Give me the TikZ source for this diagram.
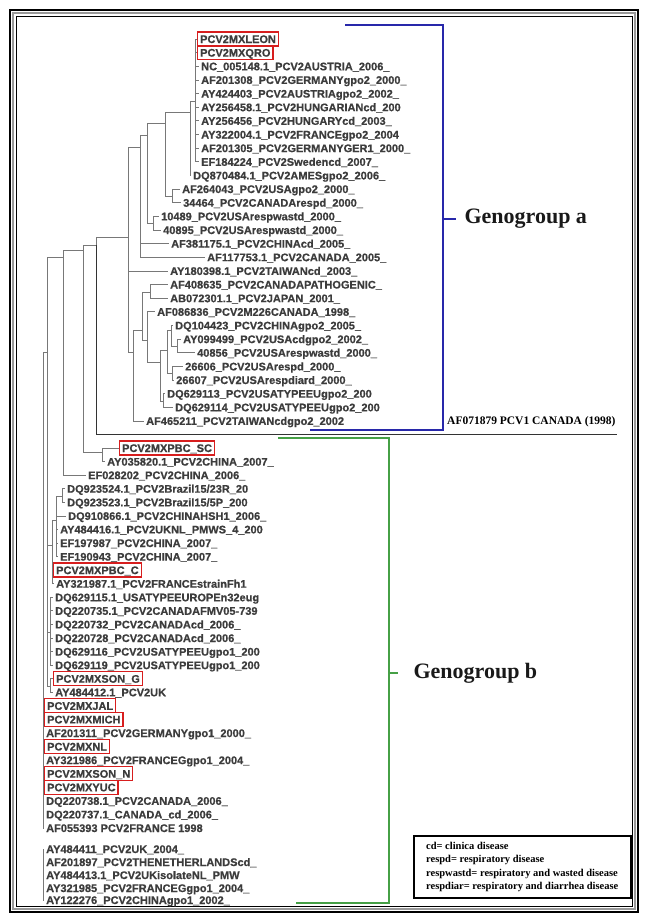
\documentclass[tikz,border=0pt]{standalone}
\usepackage{fontspec}
\setmainfont{Liberation Serif}
\newfontfamily\arialf{Liberation Sans}[FakeBold=0.7]
\definecolor{lblue}{RGB}{40,40,170}
\definecolor{lgreen}{RGB}{70,160,70}
\definecolor{mxred}{RGB}{215,30,30}
\definecolor{txt}{RGB}{60,60,60}
\definecolor{brc}{RGB}{120,120,120}
\pgfdeclarelayer{bg}
\pgfsetlayers{bg,main}
\begin{document}
\begin{tikzpicture}[x=1pt,y=-1pt,
  lf/.style={anchor=west, inner xsep=2pt, inner ysep=3pt, text height=8pt, text depth=0pt,
             font=\arialf\bfseries\fontsize{11}{13}\selectfont, text=txt},
  mx/.style={lf, draw=mxred, line width=1.3pt, inner xsep=2.5pt},
  br/.style={draw=brc, line width=0.8pt},
  grpa/.style={draw=lblue, line width=1.5pt},
  grpb/.style={draw=lgreen, line width=1.5pt},
  geno/.style={anchor=west, font=\bfseries\fontsize{22}{24}\selectfont, text=black!90},
  legend/.style={anchor=north west, draw, line width=1.5pt, inner xsep=5pt, inner ysep=5pt,
                 align=left, font=\bfseries\fontsize{10.5}{13.5}\selectfont},
  pcvlab/.style={anchor=west, inner sep=0pt, font=\bfseries\fontsize{11.5}{13}\selectfont}]
\useasboundingbox (0,0) rectangle (647,914);
\begin{pgfonlayer}{bg}
\fill[white] (0,0) rectangle (647,914);
\end{pgfonlayer}
% frame
\draw[line width=1.2pt] (10,10) rectangle (638,912);
\draw[line width=1.6pt, black!40] (13,13) rectangle (635,909);
\draw[line width=0.8pt] (16,16) rectangle (632,906);

% ---------------- Genogroup a leaves
\node[mx] (a0) at (197,39) {PCV2MXLEON};
\node[mx] (a1) at (197,52.6) {PCV2MXQRO};
\node[lf] (a2) at (199,66.3) {NC\_005148.1\_PCV2AUSTRIA\_2006\_};
\node[lf] (a3) at (199,79.9) {AF201308\_PCV2GERMANYgpo2\_2000\_};
\node[lf] (a4) at (199,93.6) {AY424403\_PCV2AUSTRIAgpo2\_2002\_};
\node[lf] (a5) at (199,107.2) {AY256458.1\_PCV2HUNGARIANcd\_200};
\node[lf] (a6) at (199,120.8) {AY256456\_PCV2HUNGARYcd\_2003\_};
\node[lf] (a7) at (199,134.5) {AY322004.1\_PCV2FRANCEgpo2\_2004};
\node[lf] (a8) at (199,148.1) {AF201305\_PCV2GERMANYGER1\_2000\_};
\node[lf] (a9) at (199,161.8) {EF184224\_PCV2Swedencd\_2007\_};
\node[lf] (a10) at (191,175.4) {DQ870484.1\_PCV2AMESgpo2\_2006\_};
\node[lf] (a11) at (180,189) {AF264043\_PCV2USAgpo2\_2000\_};
\node[lf] (a12) at (181,202.7) {34464\_PCV2CANADArespd\_2000\_};
\node[lf] (a13) at (159,216.3) {10489\_PCV2USArespwastd\_2000\_};
\node[lf] (a14) at (161,230) {40895\_PCV2USArespwastd\_2000\_};
\node[lf] (a15) at (169,243.6) {AF381175.1\_PCV2CHINAcd\_2005\_};
\node[lf] (a16) at (205,257.2) {AF117753.1\_PCV2CANADA\_2005\_};
\node[lf] (a17) at (168,270.9) {AY180398.1\_PCV2TAIWANcd\_2003\_};
\node[lf] (a18) at (168,284.5) {AF408635\_PCV2CANADAPATHOGENIC\_};
\node[lf] (a19) at (168,298.2) {AB072301.1\_PCV2JAPAN\_2001\_};
\node[lf] (a20) at (155,311.8) {AF086836\_PCV2M226CANADA\_1998\_};
\node[lf] (a21) at (173,325.4) {DQ104423\_PCV2CHINAgpo2\_2005\_};
\node[lf] (a22) at (181,339.1) {AY099499\_PCV2USAcdgpo2\_2002\_};
\node[lf] (a23) at (195,352.7) {40856\_PCV2USArespwastd\_2000\_};
\node[lf] (a24) at (183,366.4) {26606\_PCV2USArespd\_2000\_};
\node[lf] (a25) at (174,380) {26607\_PCV2USArespdiard\_2000\_};
\node[lf] (a26) at (165,393.6) {DQ629113\_PCV2USATYPEEUgpo2\_200};
\node[lf] (a27) at (173,407.3) {DQ629114\_PCV2USATYPEEUgpo2\_200};
\node[lf] (a28) at (144,420.9) {AF465211\_PCV2TAIWANcdgpo2\_2002};

% ---------------- Genogroup b leaves
\node[mx] (b0) at (119,448) {PCV2MXPBC\_SC};
\node[lf] (b1) at (105,461.6) {AY035820.1\_PCV2CHINA\_2007\_};
\node[lf] (b2) at (86,475.1) {EF028202\_PCV2CHINA\_2006\_};
\node[lf] (b3) at (65,488.7) {DQ923524.1\_PCV2Brazil15/23R\_20};
\node[lf] (b4) at (65,502.3) {DQ923523.1\_PCV2Brazil15/5P\_200};
\node[lf] (b5) at (66,515.9) {DQ910866.1\_PCV2CHINAHSH1\_2006\_};
\node[lf] (b6) at (58,529.4) {AY484416.1\_PCV2UKNL\_PMWS\_4\_200};
\node[lf] (b7) at (58,543) {EF197987\_PCV2CHINA\_2007\_};
\node[lf] (b8) at (58,556.6) {EF190943\_PCV2CHINA\_2007\_};
\node[mx] (b9) at (53,570.1) {PCV2MXPBC\_C};
\node[lf] (b10) at (54,583.7) {AY321987.1\_PCV2FRANCEstrainFh1};
\node[lf] (b11) at (53,597.3) {DQ629115.1\_USATYPEEUROPEn32eug};
\node[lf] (b12) at (53,610.8) {DQ220735.1\_PCV2CANADAFMV05-739};
\node[lf] (b13) at (53,624.4) {DQ220732\_PCV2CANADAcd\_2006\_};
\node[lf] (b14) at (53,638) {DQ220728\_PCV2CANADAcd\_2006\_};
\node[lf] (b15) at (53,651.6) {DQ629116\_PCV2USATYPEEUgpo1\_200};
\node[lf] (b16) at (53,665.1) {DQ629119\_PCV2USATYPEEUgpo1\_200};
\node[mx] (b17) at (53,678.7) {PCV2MXSON\_G};
\node[lf] (b18) at (53,692.3) {AY484412.1\_PCV2UK};
\node[mx] (b19) at (44,705.8) {PCV2MXJAL};
\node[mx] (b20) at (44,719.4) {PCV2MXMICH};
\node[lf] (b21) at (44,733) {AF201311\_PCV2GERMANYgpo1\_2000\_};
\node[mx] (b22) at (44,746.5) {PCV2MXNL};
\node[lf] (b23) at (44,760.1) {AY321986\_PCV2FRANCEGgpo1\_2004\_};
\node[mx] (b24) at (44,773.7) {PCV2MXSON\_N};
\node[mx] (b25) at (44,787.3) {PCV2MXYUC};
\node[lf] (b26) at (44,800.8) {DQ220738.1\_PCV2CANADA\_2006\_};
\node[lf] (b27) at (44,814.4) {DQ220737.1\_CANADA\_cd\_2006\_};
\node[lf] (b28) at (44,828) {AF055393 PCV2FRANCE 1998};
\node[lf] (c0) at (44,849) {AY484411\_PCV2UK\_2004\_};
\node[lf] (c1) at (44,862) {AF201897\_PCV2THENETHERLANDScd\_};
\node[lf] (c2) at (44,875) {AY484413.1\_PCV2UKisolateNL\_PMW};
\node[lf] (c3) at (44,888) {AY321985\_PCV2FRANCEGgpo1\_2004\_};
\node[lf] (c4) at (44,900) {AY122276\_PCV2CHINAgpo1\_2002\_};

% ---------------- internal nodes
\coordinate (A1) at (195,101);
\coordinate (A2) at (190,112);
\coordinate (A3) at (165,123);
\coordinate (P1) at (172,196);
\coordinate (A4) at (147,135);
\coordinate (P2) at (153,223);
\coordinate (A5) at (140,147);
\coordinate (A6) at (128,237);
\coordinate (B0) at (133,352);
\coordinate (C8) at (142,330);
\coordinate (Q1) at (150,292);
\coordinate (C7) at (147,340);
\coordinate (C6) at (160,362);
\coordinate (C4) at (167,350);
\coordinate (C2) at (171,330);
\coordinate (C1) at (177,346);
\coordinate (C3) at (172,373);
\coordinate (C5) at (163,401);
\coordinate (R96) at (96,245);
\coordinate (pcv1) at (617,434);
\coordinate (R83) at (83,250);
\coordinate (S1) at (102,452);
\coordinate (R63) at (63,257);
\coordinate (G1) at (62,496);
\coordinate (G2) at (56,520);
\coordinate (G3) at (52,545);
\coordinate (G4) at (50,632);
\coordinate (G5) at (50,686);
\coordinate (T1) at (47,352);
\coordinate (T0) at (43,600);
\coordinate (G8) at (43,875);

% ---------------- branches (behind the labels)
\begin{pgfonlayer}{bg}
\foreach \c in {a0,a1,a2,a3,a4,a5,a6,a7,a8,a9} \draw[br] (A1) |- (\c.west);
\draw[br] (A2) |- (A1);  \draw[br] (A2) |- (a10.west);
\draw[br] (A3) |- (A2);  \draw[br] (A3) |- (P1);
\draw[br] (P1) |- (a11.west); \draw[br] (P1) |- (a12.west);
\draw[br] (A4) |- (A3);  \draw[br] (A4) |- (P2);
\draw[br] (P2) |- (a13.west); \draw[br] (P2) |- (a14.west);
\draw[br] (A5) |- (A4);  \draw[br] (A5) |- (a15.west); \draw[br] (A5) |- (a16.west);
\draw[br] (A6) |- (A5);  \draw[br] (A6) |- (a17.west); \draw[br] (A6) |- (B0);
\draw[br] (B0) |- (C8);  \draw[br] (B0) |- (a28.west);
\draw[br] (C8) |- (Q1);  \draw[br] (C8) |- (C7);
\draw[br] (Q1) |- (a18.west); \draw[br] (Q1) |- (a19.west);
\draw[br] (C7) |- (a20.west); \draw[br] (C7) |- (C6);
\draw[br] (C6) |- (C4);  \draw[br] (C6) |- (C5);
\draw[br] (C4) |- (C2);  \draw[br] (C4) |- (C3);
\draw[br] (C2) |- (a21.west); \draw[br] (C2) |- (C1);
\draw[br] (C1) |- (a22.west); \draw[br] (C1) |- (a23.west);
\draw[br] (C3) |- (a24.west); \draw[br] (C3) |- (a25.west);
\draw[br] (C5) |- (a26.west); \draw[br] (C5) |- (a27.west);
\draw[br] (R96) |- (A6);
\draw[black!80, line width=1pt] (R96) |- (pcv1);
\draw[br] (R83) |- (R96); \draw[br] (R83) |- (S1);
\draw[br] (S1) |- (b0.west); \draw[br] (S1) |- (b1.west);
\draw[br] (R63) |- (R83); \draw[br] (R63) |- (b2.west);
\draw[br] (G1) |- (b3.west); \draw[br] (G1) |- (b4.west);
\draw[br] (G2) |- (G1);
\foreach \c in {b5,b6,b7,b8} \draw[br] (G2) |- (\c.west);
\draw[br] (G3) |- (G2); \draw[br] (G3) |- (b9.west); \draw[br] (G3) |- (b10.west);
\foreach \c in {b11,b12,b13,b14,b15,b16} \draw[br] (G4) |- (\c.west);
\draw[br] (G5) |- (b17.west); \draw[br] (G5) |- (b18.west);
\draw[br] (T1) |- (R63); \draw[br] (T1) |- (G3); \draw[br] (T1) |- (G4); \draw[br] (T1) |- (G5);
\draw[br] (T0) |- (T1);
\foreach \c in {b19,b20,b21,b22,b23,b24,b25,b26,b27,b28} \draw[br] (T0) |- (\c.west);
\foreach \c in {c0,c1,c2,c3,c4} \draw[br] (G8) |- (\c.west);
\end{pgfonlayer}

% outgroup label
\node[pcvlab] (pcvl) at (447,422) {AF071879 PCV1 CANADA (1998)};

% ---------------- genogroup brackets
\coordinate (ba1) at (345,25);
\coordinate (ba2) at (443,25);
\coordinate (ba3) at (443,430);
\coordinate (ba4) at (310,430);
\coordinate (bat) at (443,219);
\coordinate (bate) at (456,219);
\draw[grpa] (ba1) -- (ba2) -- (ba3) -- (ba4);
\draw[grpa] (bat) -- (bate);
\node[geno] (ga) at (461,219) {Genogroup a};

\coordinate (bg1) at (278,438);
\coordinate (bg2) at (389,438);
\coordinate (bg3) at (389,903);
\coordinate (bg4) at (296,903);
\coordinate (bgt) at (389,673);
\coordinate (bgte) at (398,673);
\draw[grpb] (bg1) -- (bg2) -- (bg3) -- (bg4);
\draw[grpb] (bgt) -- (bgte);
\node[geno] (gb) at (410,673) {Genogroup b};

% ---------------- legend
\node[legend, minimum width=217pt, minimum height=62pt] (leg) at (413,835)
  {cd= clinica disease\\ respd= respiratory disease\\ respwastd= respiratory and wasted disease\\ respdiar= respiratory and diarrhea disease};
\end{tikzpicture}
\end{document}
